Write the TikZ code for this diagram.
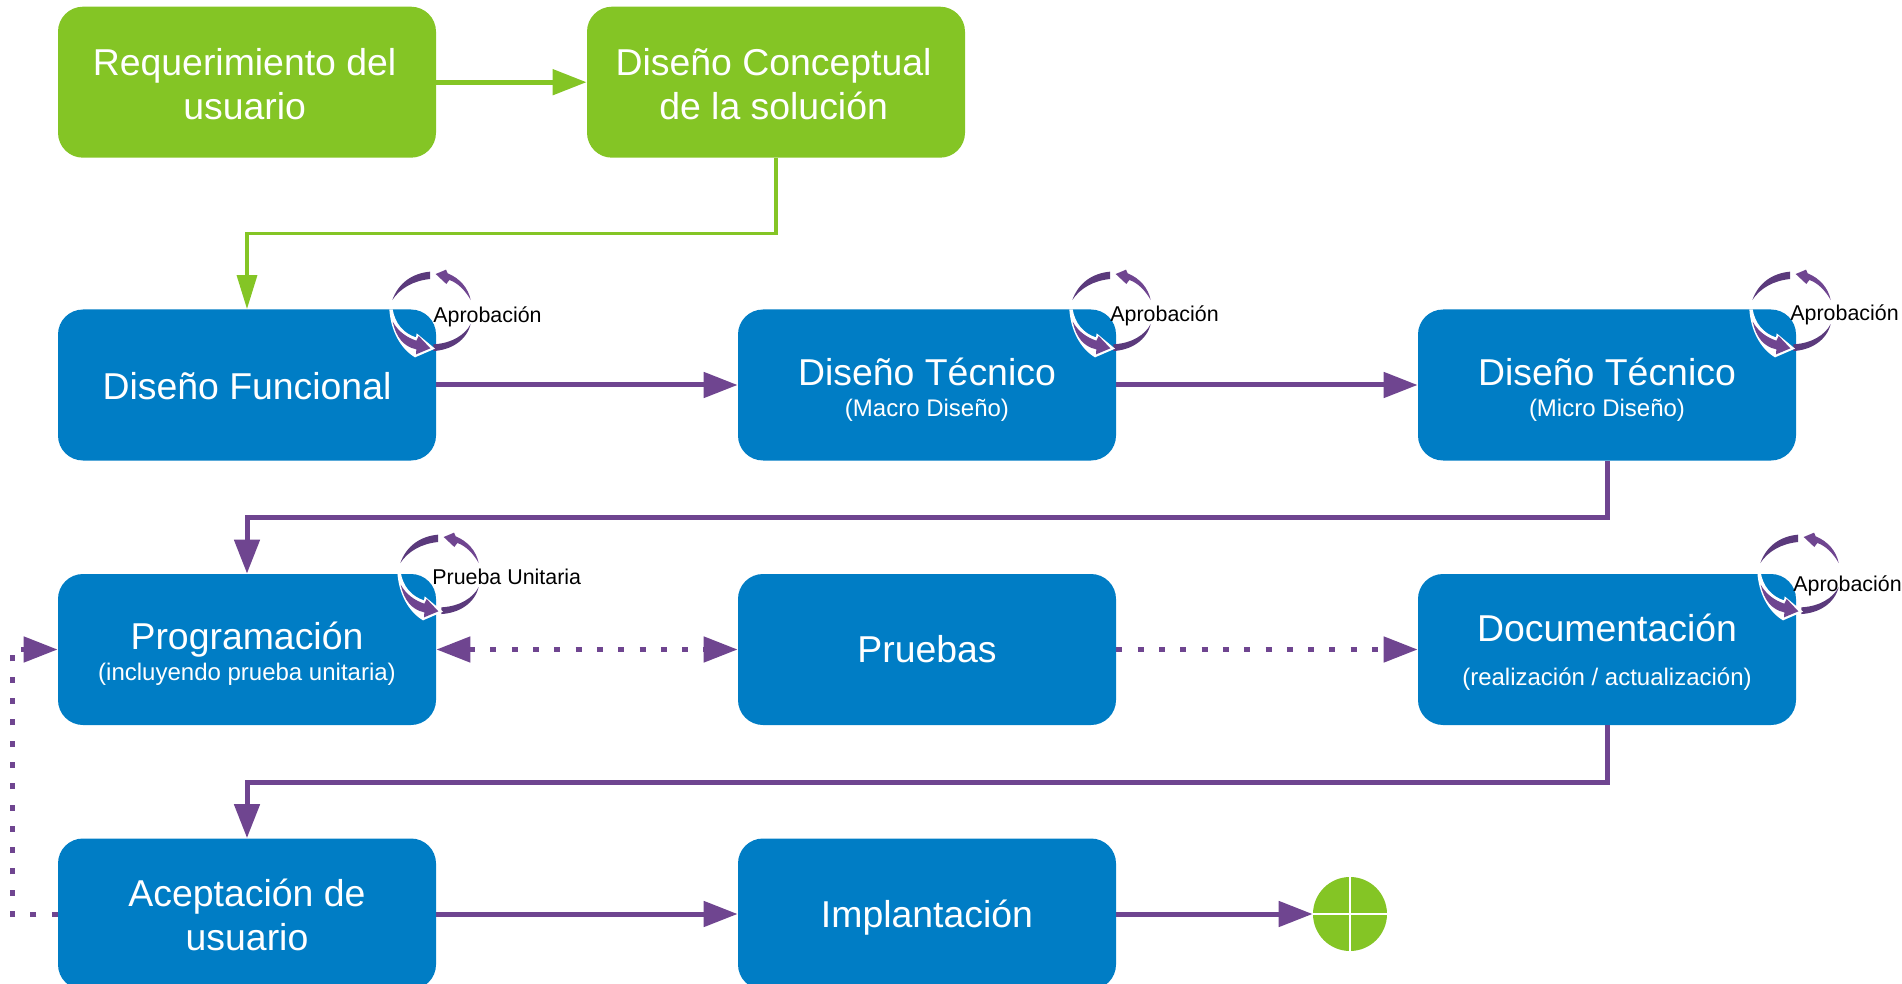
\documentclass[tikz,border=0pt]{standalone}
\usepackage{fontspec}
\setmainfont{Liberation Sans}
\usetikzlibrary{arrows.meta}
\definecolor{pur}{HTML}{6F4590}
\definecolor{purd}{HTML}{5B3A7C}
\definecolor{grn}{HTML}{84C525}
\definecolor{blu}{HTML}{007DC5}
\newcommand{\tp}[1]{\rule{0pt}{#1}}
\newcommand{\sml}{\fontsize{12}{14}\selectfont}
\newcommand{\lft}{\hspace*{2.4pt}}
\tikzset{
  box/.style={rounded corners=12.5pt,minimum width=189pt,minimum height=75.5pt,inner sep=0pt,align=center,text=white,font=\fontsize{18.7}{22.4}\selectfont},
  gbox/.style={box,fill=grn,font=\fontsize{18.7}{22.4}\selectfont},
  bbox/.style={box,fill=blu},
  parr/.style={draw=pur,line width=2.5pt,-{Triangle[length=17pt,width=12.5pt]}},
  gharr/.style={draw=grn,line width=2.5pt,-{Triangle[length=17pt,width=12.5pt]}},
  garr/.style={draw=grn,line width=1.7pt,-{Triangle[length=17pt,width=10pt]}},
  dotted parr/.style={parr,dash pattern=on 3pt off 7.65pt},
  iconlabel/.style={font=\fontsize{10.7}{12}\selectfont,text=black,inner sep=0pt,anchor=base west},
}
\newcommand{\cyc}[2]{%
\begin{scope}[shift={(#1,#2)},x=0.1667pt,y=-0.1667pt]
 \fill[purd] (67,150) .. controls (85,100) and (125,70) .. (180,65) -- (180,87) .. controls (130,92) and (90,115) .. cycle;
 \fill[pur] (197,72) -- (228,59) -- (233,70) .. controls (270,85) and (295,115) .. (302,150) .. controls (285,120) and (262,98) .. (238,90) -- (229,102) -- cycle;
 \fill[purd] (302,222) .. controls (285,255) and (245,280) .. (190,283) -- (190,303) .. controls (245,300) and (290,270) .. cycle;
 \fill[white] (58,178) .. controls (62,240) and (90,295) .. (135,322) -- (195,296) -- (140,250) -- (138,262) .. controls (100,250) and (75,220) .. (68,178) -- cycle;
 \fill[pur] (68,215) .. controls (85,245) and (110,262) .. (139,272) -- (146,258) -- (181,295) -- (138,313) -- (139,298) .. controls (100,290) and (78,260) .. cycle;
\end{scope}}
\begin{document}
\begin{tikzpicture}[x=0.5pt,y=-0.5pt]
\clip (0,0) rectangle (1902,984);
\node[gbox] (req) at (247,82.2) {\tp{15.4pt}Requerimiento del\lft\\usuario\lft};
\node[gbox] (con) at (776,82.2) {\tp{15.4pt}Diseño Conceptual\lft\\de la solución\lft};
\node[bbox] (fun) at (247,385) {\tp{14.5pt}Diseño Funcional};
\node[bbox] (mac) at (927,385) {\tp{18.1pt}Diseño Técnico\\[-6.9pt]{\sml (Macro Diseño)}};
\node[bbox] (mic) at (1607,385) {\tp{18.1pt}Diseño Técnico\\[-6.9pt]{\sml (Micro Diseño)}};
\node[bbox] (pro) at (247,649.5) {\tp{18.1pt}Programación\\[-6.9pt]{\sml (incluyendo prueba unitaria)}};
\node[bbox] (pru) at (927,649.5) {Pruebas};
\node[bbox] (doc) at (1607,649.5) {\tp{16.2pt}Documentación\\[-0.4pt]{\sml (realización / actualización)}};
\node[bbox] (ace) at (247,914) {\tp{14.7pt}Aceptación de\\usuario};
\node[bbox] (imp) at (927,914) {\tp{17.8pt}Implantación};
\node[circle,fill=grn,minimum size=37pt,inner sep=0pt] (end) at (1350,914) {};
\draw[white,line width=0.9pt] (end.north) -- (end.south) (end.west) -- (end.east);

\draw[gharr] (req) -- (con);
\draw[garr] (con.south) -- ++(0,75.5) -| (fun.north);
\draw[parr] (fun) -- (mac);
\draw[parr] (mac) -- (mic);
\draw[parr] (mic.south) -- ++(0,57) -| (pro.north);
\draw[parr] (doc.south) -- ++(0,57) -| (ace.north);
\draw[parr] (ace) -- (imp);
\draw[parr] (imp) -- (end);
\draw[dotted parr,{Triangle[length=17pt,width=12.5pt]}-{Triangle[length=17pt,width=12.5pt]}] (pro) -- (pru);
\draw[dotted parr] (pru) -- (doc);
\draw[dotted parr] (ace.west) -- (12,914) |- (pro.west);

\cyc{370}{250}
\cyc{1050}{250}
\cyc{1730}{250}
\cyc{378}{513}
\cyc{1738}{513}
\node[iconlabel] (l1) at (433,323) {Aprobación};
\node[iconlabel] (l2) at (1110,322) {Aprobación};
\node[iconlabel] (l3) at (1790,321) {Aprobación};
\node[iconlabel] (l4) at (432,584) {Prueba Unitaria};
\node[iconlabel] (l5) at (1793,591) {Aprobación};
\end{tikzpicture}
\end{document}
